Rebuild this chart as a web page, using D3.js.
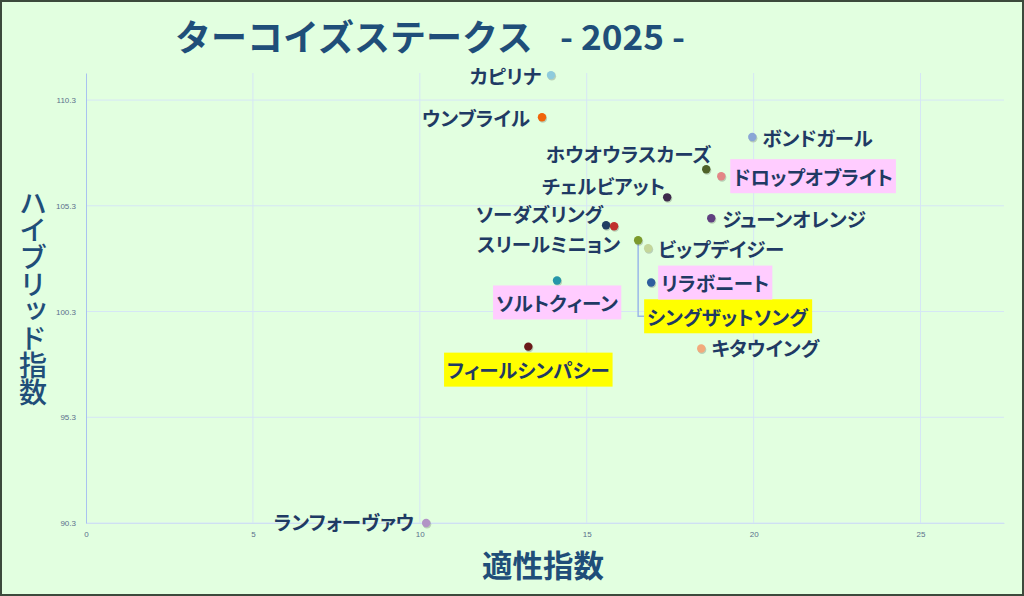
<!DOCTYPE html>
<html lang="ja">
<head>
<meta charset="UTF-8">
<title>ターコイズステークス - 2025 -</title>
<script src="https://d3js.org/d3.v7.min.js"></script>
<style>
  body { margin: 0; background: #fff; }
  svg text { font-family: "Noto Sans CJK JP", "Noto Sans", sans-serif; }
</style>
</head>
<body>
<svg id="chart" width="1024" height="596"></svg>
<script>
// horse names, suitability index (x) and hybrid index (y)
const horses = ["カピリナ", "ウンブライル", "ボンドガール", "ホウオウラスカーズ", "ドロップオブライト",
  "チェルビアット", "ジューンオレンジ", "ソーダズリング", "スリールミニョン", "シングザットソング",
  "ビップデイジー", "リラボニート", "ソルトクィーン", "キタウイング", "フィールシンパシー", "ランフォーヴァウ"];
const tekisei = [13.93, 13.66, 19.96, 18.58, 19.03, 17.41, 18.73, 15.58, 15.82, 16.54, 16.84, 16.93, 14.11, 18.43, 13.25, 10.19];
const hybrid = [111.48, 109.49, 108.55, 107.03, 106.70, 105.70, 104.71, 104.38, 104.33, 103.67, 103.29, 101.67, 101.77, 98.55, 98.64, 90.30];
const dotColors = ["#8ecbdc", "#f0640a", "#8aa6d6", "#4f6228", "#e38686", "#3e2b4d", "#604080", "#1f3e62",
  "#c0302c", "#7c9a2c", "#c4d69a", "#2e5e9e", "#2596a9", "#f2aa7c", "#6b1a1a", "#b294c6"];
const highlight = { "ドロップオブライト": "#ffccff", "リラボニート": "#ffccff", "ソルトクィーン": "#ffccff",
  "シングザットソング": "#ffff00", "フィールシンパシー": "#ffff00" };
const xTicks = [0, 5, 10, 15, 20, 25];
const yTicks = [90.3, 95.3, 100.3, 105.3, 110.3];

// where each label sits relative to its dot
const labelPos = {
  "カピリナ": [-10, 0, "end"], "ウンブライル": [-12, 0, "end"], "ボンドガール": [10, 0, "start"],
  "ホウオウラスカーズ": [5, -16, "end"], "ドロップオブライト": [12, 0, "start"], "チェルビアット": [-2, -12, "end"],
  "ジューンオレンジ": [11, 0, "start"], "ソーダズリング": [-3, -12, "end"], "スリールミニョン": [6, 17, "end"],
  "シングザットソング": [9, 76, "start"], "ビップデイジー": [10, 0, "start"], "リラボニート": [10, 0, "start"],
  "ソルトクィーン": [0, 22, "middle"], "キタウイング": [10, -1, "start"], "フィールシンパシー": [0, 23, "middle"],
  "ランフォーヴァウ": [-12, -2, "end"]
};

const data = horses.map((h, i) => ({ name: h, x: tekisei[i], y: hybrid[i], color: dotColors[i] }));

const svg = d3.select("#chart");
svg.append("rect").attr("x", 1).attr("y", 1).attr("width", 1022).attr("height", 594)
  .attr("fill", "#e2ffe0").attr("stroke", "#3c4a3c").attr("stroke-width", 2);

const x = d3.scaleLinear().domain([0, 27.5]).range([86, 1004]);
const y = d3.scaleLinear().domain([90.3, 111.58]).range([523, 73]);

// grid
svg.append("g").selectAll("line").data(xTicks.slice(1)).join("line")
  .attr("x1", d => x(d)).attr("x2", d => x(d)).attr("y1", y.range()[1]).attr("y2", y.range()[0])
  .attr("stroke", "#d6e6f6").attr("stroke-width", 1);
svg.append("g").selectAll("line").data(yTicks).join("line")
  .attr("x1", x.range()[0]).attr("x2", x.range()[1]).attr("y1", d => y(d)).attr("y2", d => y(d))
  .attr("stroke", "#d6e6f6").attr("stroke-width", 1);

// axes
const xAxis = svg.append("g").attr("transform", `translate(0,${y(90.3)})`)
  .call(d3.axisBottom(x).tickValues(xTicks).tickSize(0).tickPadding(8));
const yAxis = svg.append("g").attr("transform", `translate(${x(0)},0)`)
  .call(d3.axisLeft(y).tickValues(yTicks).tickFormat(d3.format(".1f")).tickSize(0).tickPadding(10));
xAxis.select(".domain").attr("stroke", "#cfe0f2");
yAxis.select(".domain").attr("stroke", "#a9c2f0");
svg.selectAll(".tick text").attr("fill", "#5b6f8c").style("font-size", "8px")
  .style("font-family", "'Liberation Sans', sans-serif");

// leader line for シングザットソング
const sing = data.find(d => d.name === "シングザットソング");
svg.append("path")
  .attr("d", `M${x(sing.x)},${y(sing.y)} V${y(sing.y) + labelPos[sing.name][1]} H${x(sing.x) + 6}`)
  .attr("fill", "none").attr("stroke", "#9bb8e8").attr("stroke-width", 1.5);

// dots
svg.append("g").selectAll("circle").data(data).join("circle")
  .attr("cx", d => x(d.x) + 0.8).attr("cy", d => y(d.y) + 1.2).attr("r", 4.3)
  .attr("fill", "#000").attr("opacity", 0.18);
svg.append("g").selectAll("circle").data(data).join("circle")
  .attr("cx", d => x(d.x)).attr("cy", d => y(d.y)).attr("r", 4.2)
  .attr("fill", d => d.color);

// labels
const labels = svg.append("g").selectAll("g").data(data).join("g")
  .attr("transform", d => `translate(${x(d.x) + labelPos[d.name][0]},${y(d.y) + labelPos[d.name][1]})`);
labels.append("text")
  .attr("text-anchor", d => labelPos[d.name][2])
  .attr("dominant-baseline", "central")
  .attr("fill", "#1f3a64")
  .style("font-size", "19.5px").style("font-weight", "bold")
  .style("font-feature-settings", "'palt'")
  .text(d => d.name);
labels.each(function (d) {
  if (!highlight[d.name]) return;
  const g = d3.select(this);
  const b = g.select("text").node().getBBox();
  g.insert("rect", "text").attr("x", b.x - 3).attr("y", b.y - 2.5)
    .attr("width", b.width + 6).attr("height", b.height + 5)
    .attr("fill", highlight[d.name]);
});

// titles
svg.append("text").attr("x", 175).attr("y", 35).attr("dominant-baseline", "central")
  .attr("fill", "#1f4e79").style("font-size", "36px").style("font-weight", "bold")
  .text("ターコイズステークス")
  .append("tspan").attr("x", 560).attr("textLength", 125).attr("lengthAdjust", "spacingAndGlyphs")
  .style("font-size", "34px").text("- 2025 -");

svg.append("text").attr("x", 543).attr("y", 564).attr("text-anchor", "middle").attr("dominant-baseline", "central")
  .attr("fill", "#1f4e79").style("font-size", "30.5px").style("font-weight", "bold")
  .text("適性指数");

svg.append("text").attr("x", 33).attr("y", 189)
  .attr("fill", "#1f4e79").style("font-size", "28px").style("font-weight", "500")
  .style("writing-mode", "vertical-rl").style("text-orientation", "upright")
  .style("letter-spacing", "-1px")
  .text("ハイブリッド指数");
</script>
</body>
</html>
